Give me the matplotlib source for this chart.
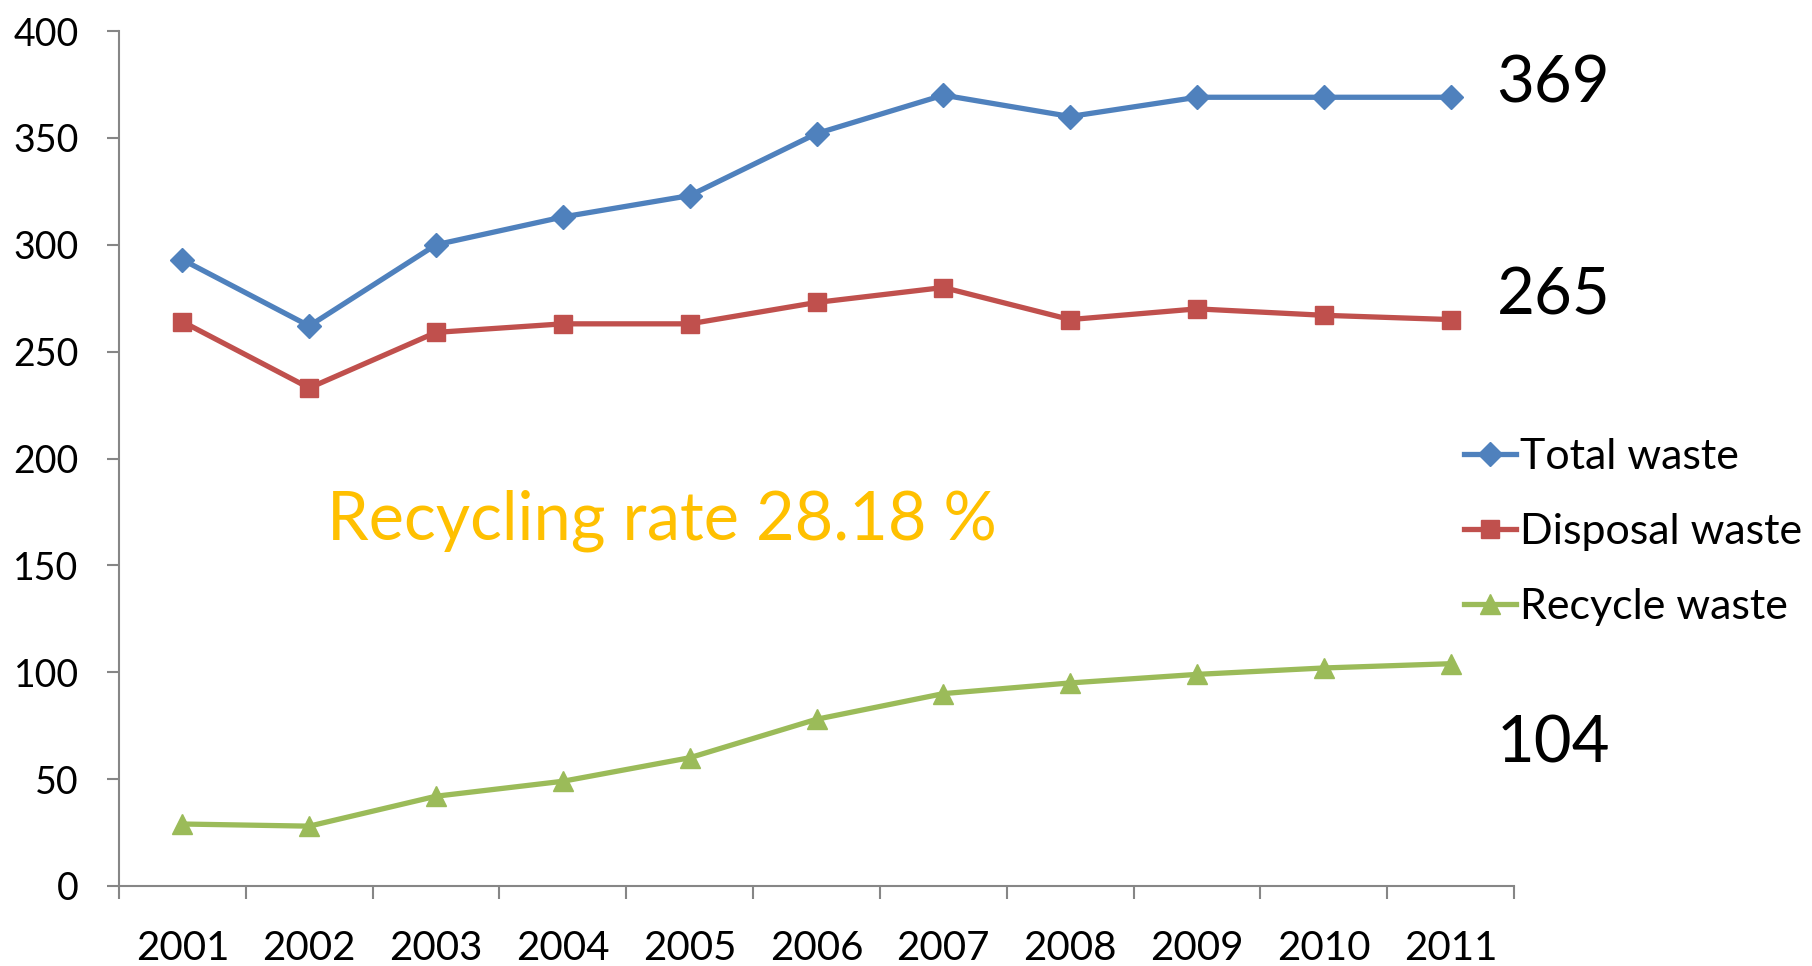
import matplotlib
matplotlib.use("Agg")
import matplotlib.pyplot as plt
from matplotlib.ticker import FixedLocator, NullFormatter, FixedFormatter

plt.rcParams['font.family'] = ['Lato', 'DejaVu Sans']

years = ["2001", "2002", "2003", "2004", "2005", "2006", "2007", "2008", "2009", "2010", "2011"]
total_waste = [293, 262, 300, 313, 323, 352, 370, 360, 369, 369, 369]
disposal_waste = [264, 233, 259, 263, 263, 273, 280, 265, 270, 267, 265]
recycle_waste = [29, 28, 42, 49, 60, 78, 90, 95, 99, 102, 104]
series_names = ["Total waste", "Disposal waste", "Recycle waste"]
y_ticks = [0, 50, 100, 150, 200, 250, 300, 350, 400]
annotation_text = "Recycling rate 28.18 %"

fig = plt.figure(figsize=(18.12, 9.66), dpi=100)
ax = fig.add_axes([119/1812, 1 - 886/966, (1514-119)/1812, (886-31)/966])

x = [i + 0.5 for i in range(len(years))]
styles = [
    dict(color="#4F81BD", marker="D", markersize=12),
    dict(color="#C0504D", marker="s", markersize=13),
    dict(color="#9BBB59", marker="^", markersize=14),
]
lines = []
for vals, name, st in zip([total_waste, disposal_waste, recycle_waste], series_names, styles):
    ln, = ax.plot(x, vals, linewidth=3.8, label=name, clip_on=False, **st)
    lines.append(ln)

ax.set_xlim(0, len(years))
ax.set_ylim(0, 400)
for s in ["top", "right"]:
    ax.spines[s].set_visible(False)
for s in ["left", "bottom"]:
    ax.spines[s].set_color("#868686")
    ax.spines[s].set_linewidth(1.5)

ax.xaxis.set_major_locator(FixedLocator(list(range(len(years) + 1))))
ax.xaxis.set_major_formatter(NullFormatter())
ax.xaxis.set_minor_locator(FixedLocator(x))
ax.xaxis.set_minor_formatter(FixedFormatter(years))
ax.tick_params(axis="x", which="major", direction="out", length=9, width=1.5, color="#868686")
ax.tick_params(axis="x", which="minor", length=0, pad=32, labelsize=29)
ax.set_yticks(y_ticks)
ax.tick_params(axis="y", direction="out", length=9, width=1.5, color="#868686", pad=20, labelsize=27)

# end-value labels
offsets = [(46, 13), (46, 24), (46, -80)]
for vals, off in zip([total_waste, disposal_waste, recycle_waste], offsets):
    ax.annotate(str(vals[-1]), xy=(x[-1], vals[-1]), xytext=off, textcoords="offset pixels",
                fontsize=47, va="center", ha="left", color="black", annotation_clip=False)

ax.text(1.64, 171, annotation_text, color="#FFC000", fontsize=48, va="center", ha="left")

leg = fig.legend(handles=lines, loc="upper left", bbox_to_anchor=(1464/1812, 1 - 438/966),
                 frameon=False, fontsize=31, handlelength=1.2, handletextpad=0.1,
                 labelspacing=0.86, borderaxespad=0, borderpad=0)

fig.savefig("out.png", dpi=100)
